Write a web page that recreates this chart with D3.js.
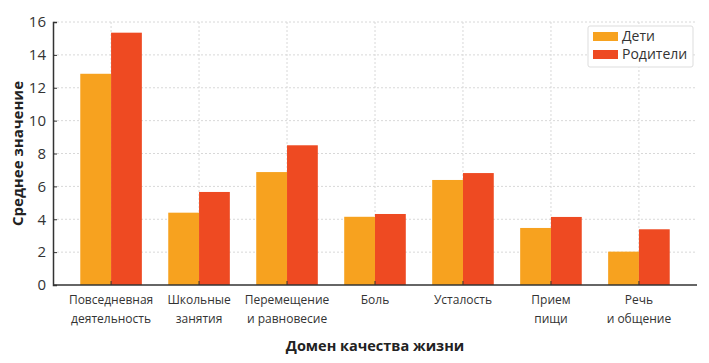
<!DOCTYPE html>
<html>
<head>
<meta charset="utf-8">
<script src="https://cdn.jsdelivr.net/npm/d3@7"></script>
<style>
  body { margin: 0; background: #fff; }
  text { font-family: "Open Sans", "Noto Sans", sans-serif; fill: #333; }
</style>
</head>
<body>
<div id="chart"></div>
<script>
// data
var categories = [
  ["Повседневная", "деятельность"],
  ["Школьные", "занятия"],
  ["Перемещение", "и равновесие"],
  ["Боль"],
  ["Усталость"],
  ["Прием", "пищи"],
  ["Речь", "и общение"]
];
var kids = [12.85, 4.4, 6.87, 4.15, 6.39, 3.47, 2.03];
var parents = [15.35, 5.66, 8.5, 4.32, 6.81, 4.14, 3.39];
var seriesNames = ["Дети", "Родители"];
var yTicks = [0, 2, 4, 6, 8, 10, 12, 14, 16];

var colors = ["#F7A21F", "#EE4A22"];
var width = 709, height = 363;
var pLeft = 53, pRight = 697, pTop = 22, pBottom = 285;

var svg = d3.select("#chart").append("svg")
  .attr("width", width).attr("height", height);

var idx = d3.range(categories.length);
var x = d3.scaleBand().domain(idx).range([pLeft, pRight]).paddingInner(0.3).paddingOuter(0.31);
var xs = d3.scaleBand().domain([0, 1]).range([0, x.bandwidth()]);
var y = d3.scaleLinear().domain([0, 16]).range([pBottom, pTop]);

// grid
svg.append("g").selectAll("line").data(yTicks.slice(1)).join("line")
  .attr("x1", pLeft).attr("x2", pRight)
  .attr("y1", function(d){ return y(d); }).attr("y2", function(d){ return y(d); })
  .attr("stroke", "#d8d8d8").attr("stroke-dasharray", "2,2");
svg.append("g").selectAll("line").data(idx).join("line")
  .attr("x1", function(d){ return x(d) + x.bandwidth()/2; })
  .attr("x2", function(d){ return x(d) + x.bandwidth()/2; })
  .attr("y1", pTop).attr("y2", pBottom)
  .attr("stroke", "#d8d8d8").attr("stroke-dasharray", "2,2");

// bars
var series = [kids, parents];
series.forEach(function(vals, s){
  svg.append("g").selectAll("rect").data(vals).join("rect")
    .attr("x", function(d, i){ return x(i) + xs(s); })
    .attr("width", xs.bandwidth())
    .attr("y", function(d){ return y(d); })
    .attr("height", function(d){ return y(0) - y(d); })
    .attr("fill", colors[s]);
});

// axes
var yAxis = svg.append("g")
  .attr("transform", "translate(" + pLeft + ",0)")
  .call(d3.axisLeft(y).tickValues(yTicks).tickSize(-4).tickPadding(7));
yAxis.select(".domain").attr("stroke", "#333").attr("stroke-width", 1.5);
yAxis.selectAll(".tick line").attr("stroke", "#333");
yAxis.selectAll("text").attr("font-size", 15).style("fill", "#333");

var xAxis = svg.append("g")
  .attr("transform", "translate(0," + pBottom + ")")
  .call(d3.axisBottom(x).tickSize(-4).tickFormat(""));
xAxis.select(".domain").attr("stroke", "#333").attr("stroke-width", 1.5)
  .attr("d", "M" + pLeft + ",0H" + pRight);
xAxis.selectAll(".tick line").attr("stroke", "#333");

xAxis.selectAll(".tick").append("text")
  .attr("text-anchor", "middle").attr("font-size", 12)
  .style("fill", "#333")
  .selectAll("tspan").data(function(d){ return categories[d]; }).join("tspan")
  .attr("x", 0).attr("y", function(d, i){ return 19 + i * 19; })
  .text(function(d){ return d; });

// titles
svg.append("text")
  .attr("transform", "translate(23," + ((pTop + pBottom)/2) + ") rotate(-90)")
  .attr("text-anchor", "middle").attr("font-size", 15).attr("font-weight", "bold")
  .style("fill", "#222")
  .text("Среднее значение");
svg.append("text")
  .attr("x", (pLeft + pRight)/2).attr("y", 351)
  .attr("text-anchor", "middle").attr("font-size", 14.5).attr("font-weight", "bold")
  .style("fill", "#222")
  .text("Домен качества жизни");

// legend
var lg = svg.append("g").attr("transform", "translate(588,26)");
lg.append("rect").attr("width", 105).attr("height", 41).attr("rx", 2)
  .attr("fill", "#fff").attr("stroke", "#ddd");
seriesNames.forEach(function(n, i){
  lg.append("rect").attr("x", 5).attr("y", 6 + i * 18).attr("width", 25).attr("height", 9)
    .attr("fill", colors[i]);
  lg.append("text").attr("x", 34).attr("y", 15 + i * 18)
    .attr("font-size", 14).style("fill", "#333").text(n);
});
</script>
</body>
</html>
